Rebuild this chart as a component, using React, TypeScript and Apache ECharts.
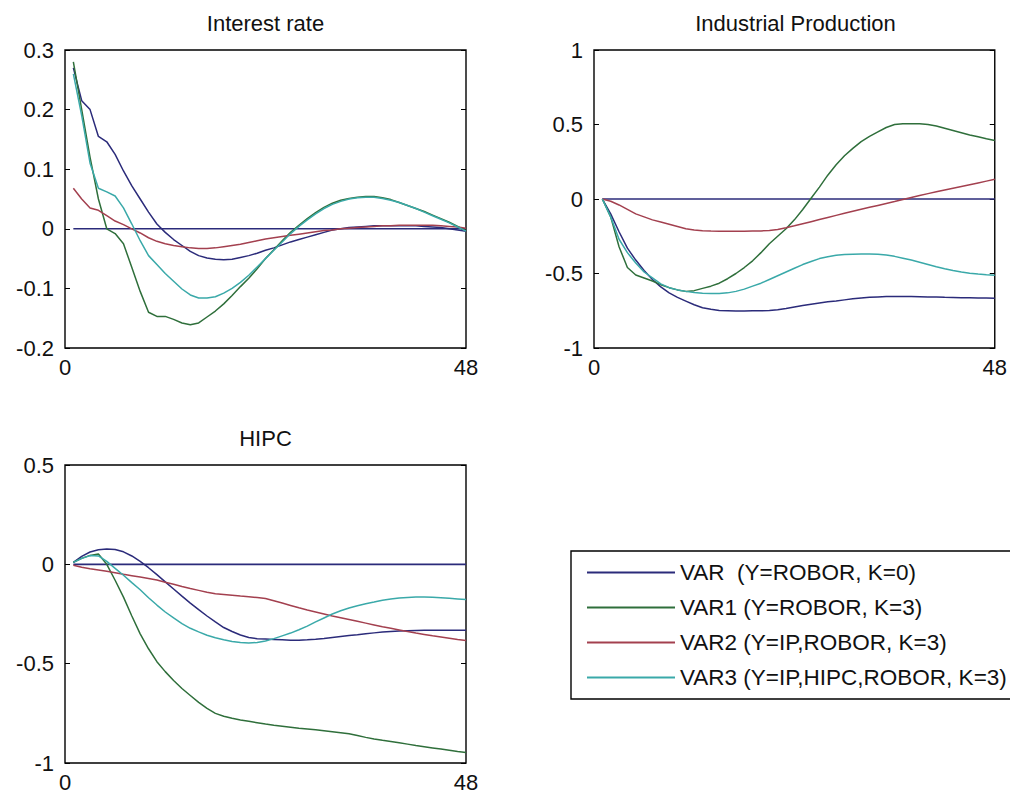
import React, { useEffect, useRef } from "react";
import * as echarts from "echarts";

const steps = [1, 2, 3, 4, 5, 6, 7, 8, 9, 10, 11, 12, 13, 14, 15, 16, 17, 18, 19, 20, 21, 22, 23, 24, 25, 26, 27, 28, 29, 30, 31, 32, 33, 34, 35, 36, 37, 38, 39, 40, 41, 42, 43, 44, 45, 46, 47, 48];

const seriesNames = ["VAR  (Y=ROBOR, K=0)", "VAR1 (Y=ROBOR, K=3)", "VAR2 (Y=IP,ROBOR, K=3)", "VAR3 (Y=IP,HIPC,ROBOR, K=3)"];
const panelTitles = ["Interest rate", "Industrial Production", "HIPC"];
const xTickLabels = [0, 48];

// Interest rate
const irVAR = [0.27, 0.215, 0.2, 0.155, 0.146, 0.125, 0.097, 0.072, 0.05, 0.028, 0.008, -0.006, -0.018, -0.028, -0.038, -0.045, -0.049, -0.051, -0.052, -0.051, -0.048, -0.045, -0.041, -0.036, -0.032, -0.027, -0.022, -0.018, -0.014, -0.01, -0.006, -0.002, 0, 0.002, 0.003, 0.004, 0.005, 0.005, 0.005, 0.005, 0.005, 0.005, 0.004, 0.003, 0.002, 0, -0.002, -0.004];
const irVAR1 = [0.28, 0.2, 0.12, 0.05, 0, -0.008, -0.025, -0.065, -0.105, -0.14, -0.147, -0.147, -0.152, -0.158, -0.161, -0.158, -0.148, -0.138, -0.126, -0.112, -0.097, -0.083, -0.067, -0.05, -0.035, -0.02, -0.006, 0.006, 0.017, 0.027, 0.036, 0.043, 0.048, 0.051, 0.053, 0.054, 0.054, 0.052, 0.049, 0.044, 0.039, 0.034, 0.029, 0.023, 0.017, 0.011, 0.004, -0.003];
const irVAR2 = [0.068, 0.05, 0.035, 0.031, 0.022, 0.013, 0.007, 0, -0.007, -0.015, -0.021, -0.025, -0.028, -0.03, -0.032, -0.033, -0.033, -0.032, -0.03, -0.028, -0.026, -0.023, -0.02, -0.017, -0.015, -0.013, -0.011, -0.009, -0.007, -0.005, -0.003, -0.002, 0, 0.001, 0.002, 0.003, 0.004, 0.005, 0.005, 0.006, 0.006, 0.006, 0.006, 0.006, 0.005, 0.004, 0.003, 0.001];
const irVAR3 = [0.26, 0.19, 0.11, 0.068, 0.062, 0.055, 0.035, 0.008, -0.02, -0.045, -0.06, -0.075, -0.088, -0.101, -0.111, -0.116, -0.116, -0.114, -0.108, -0.1, -0.09, -0.078, -0.064, -0.05, -0.036, -0.022, -0.008, 0.004, 0.015, 0.025, 0.034, 0.041, 0.046, 0.05, 0.052, 0.053, 0.053, 0.051, 0.048, 0.044, 0.039, 0.034, 0.028, 0.022, 0.016, 0.01, 0.003, -0.004];

// Industrial Production
const ipVAR = [0, -0.1, -0.22, -0.33, -0.41, -0.48, -0.54, -0.59, -0.63, -0.66, -0.685, -0.71, -0.73, -0.74, -0.748, -0.75, -0.752, -0.752, -0.75, -0.75, -0.748, -0.744, -0.735, -0.725, -0.715, -0.706, -0.698, -0.69, -0.684, -0.677, -0.67, -0.665, -0.66, -0.657, -0.655, -0.654, -0.654, -0.655, -0.656, -0.657, -0.658, -0.66, -0.661, -0.662, -0.663, -0.664, -0.665, -0.666];
const ipVAR1 = [0, -0.12, -0.32, -0.46, -0.51, -0.53, -0.55, -0.575, -0.595, -0.61, -0.62, -0.615, -0.6, -0.585, -0.565, -0.535, -0.5, -0.46, -0.415, -0.36, -0.3, -0.25, -0.2, -0.14, -0.07, 0.005, 0.08, 0.16, 0.23, 0.29, 0.34, 0.385, 0.42, 0.45, 0.48, 0.5, 0.505, 0.505, 0.505, 0.5, 0.49, 0.475, 0.46, 0.445, 0.43, 0.418, 0.405, 0.393];
const ipVAR2 = [0, -0.015, -0.04, -0.07, -0.1, -0.12, -0.14, -0.155, -0.17, -0.185, -0.2, -0.208, -0.213, -0.215, -0.216, -0.216, -0.216, -0.216, -0.215, -0.214, -0.212, -0.205, -0.193, -0.18, -0.166, -0.152, -0.138, -0.124, -0.11, -0.096, -0.082, -0.069, -0.056, -0.043, -0.03, -0.017, -0.003, 0.01, 0.023, 0.036, 0.048, 0.06, 0.072, 0.084, 0.096, 0.108, 0.12, 0.132];
const ipVAR3 = [0, -0.12, -0.27, -0.36, -0.43, -0.49, -0.53, -0.57, -0.595, -0.61, -0.62, -0.628, -0.632, -0.634, -0.634, -0.63, -0.62, -0.605, -0.585, -0.565, -0.54, -0.515, -0.49, -0.465, -0.44, -0.42, -0.4, -0.387, -0.378, -0.373, -0.37, -0.369, -0.369, -0.371, -0.376, -0.385, -0.397, -0.41, -0.425, -0.44, -0.455, -0.468, -0.48, -0.49, -0.498, -0.504, -0.509, -0.512];

// HIPC
const hVAR = [0.01, 0.04, 0.062, 0.073, 0.077, 0.075, 0.063, 0.042, 0.015, -0.017, -0.052, -0.088, -0.124, -0.16, -0.195, -0.228, -0.26, -0.29, -0.318, -0.338, -0.356, -0.368, -0.374, -0.376, -0.378, -0.38, -0.382, -0.382, -0.38, -0.377, -0.373, -0.368, -0.363, -0.358, -0.354, -0.349, -0.345, -0.341, -0.338, -0.336, -0.334, -0.333, -0.332, -0.332, -0.332, -0.332, -0.332, -0.332];
const hVAR1 = [0.01, 0.03, 0.045, 0.052, 0, -0.08, -0.165, -0.26, -0.35, -0.425, -0.49, -0.54, -0.585, -0.625, -0.66, -0.695, -0.725, -0.75, -0.765, -0.775, -0.783, -0.79, -0.797, -0.804, -0.81, -0.815, -0.82, -0.825, -0.829, -0.833, -0.838, -0.843, -0.848, -0.853, -0.862, -0.871, -0.879, -0.886, -0.892, -0.898, -0.905, -0.912, -0.918, -0.924, -0.93, -0.936, -0.942, -0.947];
const hVAR2 = [-0.005, -0.015, -0.022, -0.028, -0.035, -0.042, -0.05, -0.057, -0.064, -0.071, -0.079, -0.09, -0.1, -0.112, -0.122, -0.131, -0.14, -0.148, -0.152, -0.156, -0.16, -0.163, -0.167, -0.172, -0.183, -0.195, -0.207, -0.219, -0.23, -0.24, -0.25, -0.26, -0.269, -0.278, -0.287, -0.296, -0.305, -0.314, -0.322, -0.33, -0.338, -0.346, -0.353, -0.36, -0.366, -0.372, -0.378, -0.383];
const hVAR3 = [0.01, 0.03, 0.044, 0.042, 0.015, -0.02, -0.055, -0.092, -0.128, -0.168, -0.205, -0.24, -0.27, -0.298, -0.322, -0.34, -0.357, -0.37, -0.38, -0.388, -0.394, -0.396, -0.393, -0.386, -0.374, -0.36, -0.346, -0.329, -0.311, -0.29, -0.27, -0.25, -0.234, -0.22, -0.208, -0.198, -0.19, -0.181, -0.175, -0.17, -0.167, -0.165, -0.165, -0.166, -0.168, -0.171, -0.174, -0.177];

const yMins = [-0.2, -1, -1];
const yMaxs = [0.3, 1, 0.5];
const yIntervals = [0.1, 0.5, 0.5];
const panelData = [
  [irVAR, irVAR1, irVAR2, irVAR3],
  [ipVAR, ipVAR1, ipVAR2, ipVAR3],
  [hVAR, hVAR1, hVAR2, hVAR3],
];

const COLORS = ["#2b2b7a", "#2f6f3b", "#a3404f", "#3aa9a9"];
const FONT = "'Liberation Sans', Arial, sans-serif";
const GRIDS = [
  { left: 65, top: 50, width: 401, height: 298 },
  { left: 594, top: 50, width: 403, height: 298 },
  { left: 65, top: 465, width: 401, height: 298 },
];
const TITLE_TOPS = [12, 12, 427];

export default function App() {
  const ref = useRef<HTMLDivElement>(null);
  useEffect(() => {
    if (!ref.current) return;
    const chart = echarts.init(ref.current, null, { renderer: "svg" });
    const fmt = (v: number) => String(parseFloat(v.toFixed(2)));
    const xAxes: any[] = [];
    const yAxes: any[] = [];
    const series: any[] = [];
    const titles: any[] = [];
    GRIDS.forEach((g, i) => {
      titles.push({
        text: panelTitles[i],
        left: g.left + g.width / 2,
        top: TITLE_TOPS[i],
        textAlign: "center",
        padding: 0,
        textStyle: { fontFamily: FONT, fontSize: 22, fontWeight: "normal", color: "#111" },
      });
      xAxes.push({
        type: "value",
        gridIndex: i,
        min: xTickLabels[0],
        max: xTickLabels[1],
        interval: xTickLabels[1] - xTickLabels[0],
        axisLine: { show: false },
        axisTick: { show: false },
        splitLine: { show: false },
        axisLabel: { fontFamily: FONT, fontSize: 22, color: "#111", margin: 8, showMinLabel: true, showMaxLabel: true },
      });
      const common = {
        type: "value",
        gridIndex: i,
        min: yMins[i],
        max: yMaxs[i],
        interval: yIntervals[i],
        axisLine: { show: false },
        splitLine: { show: false },
        axisTick: { show: true, inside: true, length: 5, lineStyle: { color: "#000", width: 1 } },
      };
      yAxes.push({
        ...common,
        position: "left",
        axisLabel: { fontFamily: FONT, fontSize: 22, color: "#111", margin: 11, formatter: fmt },
      });
      yAxes.push({
        ...common,
        position: "right",
        axisLabel: { show: false },
      });
      // zero reference line
      series.push({
        type: "line",
        name: "zero" + i,
        xAxisIndex: i,
        yAxisIndex: i * 2,
        data: [[steps[0], 0], [steps[steps.length - 1], 0]],
        showSymbol: false,
        symbol: "none",
        silent: true,
        lineStyle: { color: COLORS[0], width: 1.6 },
      });
      panelData[i].forEach((vals, k) => {
        series.push({
          type: "line",
          name: seriesNames[k],
          xAxisIndex: i,
          yAxisIndex: i * 2,
          data: vals.map((v, j) => [steps[j], v]),
          showSymbol: false,
          symbol: "none",
          color: COLORS[k],
          lineStyle: { color: COLORS[k], width: 1.5 },
        });
      });
    });

    chart.setOption({
      animation: false,
      backgroundColor: "#fff",
      title: titles,
      grid: GRIDS.map((g) => ({ ...g, show: true, borderColor: "#000", borderWidth: 1.4, backgroundColor: "transparent", containLabel: false })),
      xAxis: xAxes,
      yAxis: yAxes,
      legend: {
        data: seriesNames,
        orient: "vertical",
        left: 571,
        top: 551,
        padding: [10, 14, 10, 16],
        itemGap: 12,
        itemWidth: 88,
        itemHeight: 2,
        icon: "rect",
        borderColor: "#000",
        borderWidth: 1.4,
        backgroundColor: "#fff",
        selectedMode: false,
        textStyle: { fontFamily: FONT, fontSize: 22.5, color: "#111" },
      },
      series,
    });
    return () => chart.dispose();
  }, []);
  return <div ref={ref} style={{ position: "absolute", left: 0, top: 0, width: 1010, height: 795 }} />;
}
